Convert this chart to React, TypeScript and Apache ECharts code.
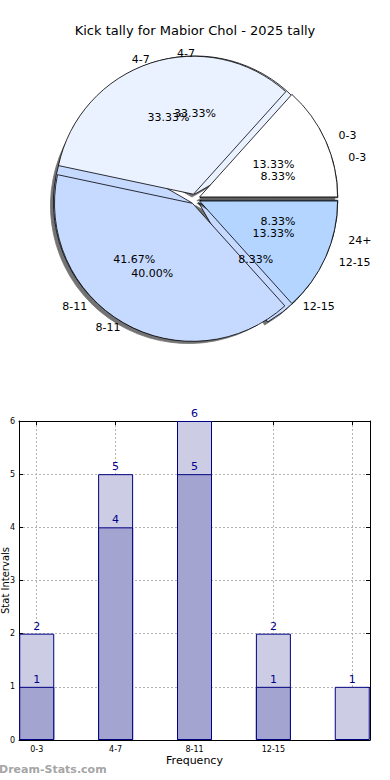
import React, { useEffect, useRef } from 'react';
import * as echarts from 'echarts';

const TITLE = 'Kick tally for Mabior Chol - 2025 tally';

// Pie A (drawn underneath): 12 in total
const pieCategoriesA = ['0-3', '4-7', '8-11', '12-15', '24+'];
const pieValuesA = [1, 4, 5, 1, 1];

// Pie B (drawn on top): 15 in total
const pieCategoriesB = ['0-3', '4-7', '8-11', '12-15'];
const pieValuesB = [2, 5, 6, 2];

// Bar chart
const barCategories = ['0-3', '4-7', '8-11', '12-15', ''];
const barLight = [2, 5, 6, 2, 1];
const barDark = [1, 4, 5, 1, 0];
const yTickLabels = ['0', '1', '2', '3', '4', '5', '6'];

const Y_AXIS_NAME = 'Stat Intervals';
const X_AXIS_NAME = 'Frequency';
const WATERMARK = 'Dream-Stats.com';

// styles
const colorsA = ['#ffffff', '#eaf1ff', '#c6d9ff', '#c6d9ff', '#b3d5ff'];
const colorsB = ['#ffffff', '#eaf1ff', '#c6d9ff', '#b3d5ff'];
const FONT = 'DejaVu Sans';

export default function App() {
  const ref = useRef<HTMLDivElement>(null);

  useEffect(() => {
    const chart = echarts.init(ref.current as HTMLDivElement, null, { renderer: 'svg' });
    const R = 138;
    const C = [195, 199];
    const OFFSET = 5;
    const START = 0.01;
    // reference pie is slightly elliptical: horizontal / vertical radii
    const RX = 145;
    const RY = 132;

    // per-slice label distance so that names sit at 1.1x the reference ellipse
    const labelLens = (vals: number[]) => {
      const total = vals.reduce((a, b) => a + b, 0);
      let acc = 0;
      return vals.map((v) => {
        const mid = ((acc + v / 2) / total) * Math.PI * 2;
        acc += v;
        const d = 1.1 * Math.sqrt((RX * Math.cos(mid)) ** 2 + (RY * Math.sin(mid)) ** 2);
        return Math.max(1, d - R - OFFSET);
      });
    };

    const pieBase = (name: string, cats: string[], vals: number[], colors: string[], shadow: boolean) => {
      const lens = labelLens(vals);
      return {
        name,
        type: 'pie',
        center: C,
        radius: [0, R],
        startAngle: START,
        clockwise: false,
        silent: true,
        selectedMode: 'multiple',
        selectedOffset: OFFSET,
        avoidLabelOverlap: false,
        labelLayout: { hideOverlap: false },
        itemStyle: {
          borderColor: '#000',
          borderWidth: 0.8,
          ...(shadow
            ? { shadowColor: 'rgba(0,0,0,0.55)', shadowOffsetX: -3, shadowOffsetY: 3, shadowBlur: 1 }
            : {}),
        },
        select: { itemStyle: { borderColor: '#000', borderWidth: 0.8 } },
        emphasis: { disabled: true },
        label: {
          show: true,
          position: 'outside',
          formatter: '{b}',
          fontSize: 11,
          color: '#000',
          fontFamily: FONT,
          distanceToLabelLine: 0,
        },
        labelLine: { show: false, length: 14, length2: 0 },
        data: cats.map((c, i) => ({
          name: c,
          value: vals[i],
          selected: true,
          itemStyle: { color: colors[i] },
          labelLine: { show: false, length: lens[i], length2: 0 },
        })),
      };
    };

    const pctSeries = (name: string, cats: string[], vals: number[]) => {
      const total = vals.reduce((a, b) => a + b, 0);
      return {
        name,
        type: 'pie',
        center: C,
        radius: [0, R * 1.2],
        startAngle: START,
        clockwise: false,
        silent: true,
        avoidLabelOverlap: false,
        labelLayout: { hideOverlap: false },
        itemStyle: { color: 'rgba(0,0,0,0)', borderWidth: 0 },
        emphasis: { disabled: true },
        label: {
          show: true,
          position: 'inside',
          formatter: (p: any) => ((p.value / total) * 100).toFixed(2) + '%',
          fontSize: 11,
          color: '#000',
          fontFamily: FONT,
        },
        labelLine: { show: false },
        data: cats.map((c, i) => ({ name: c, value: vals[i] })),
      };
    };

    const xTickValues = barCategories.map((_, i) => i);
    const xMin = -0.225;
    const xMax = barCategories.length - 1 + 0.225;

    const frameLine = { show: true, onZero: false, lineStyle: { color: '#000', width: 1 } };
    const gridLine = { show: true, lineStyle: { type: [2, 2], color: '#b4b4b4', width: 1 } };

    const option: any = {
      animation: false,
      textStyle: { fontFamily: FONT },
      title: {
        text: TITLE,
        left: 'center',
        top: 19,
        textStyle: { fontSize: 13, fontWeight: 'normal', color: '#000', fontFamily: FONT },
      },
      grid: { left: 19, right: 20, top: 421, bottom: 40, containLabel: false, outerBoundsMode: 'none' },
      xAxis: [
        {
          type: 'value',
          min: xMin,
          max: xMax,
          position: 'bottom',
          axisLine: frameLine,
          axisTick: { show: true, inside: true, length: 4, customValues: xTickValues, lineStyle: { color: '#000' } },
          axisLabel: {
            customValues: xTickValues,
            formatter: (v: number) => barCategories[Math.round(v)] ?? '',
            fontSize: 8,
            color: '#000',
            margin: 5,
          },
          splitLine: gridLine,
          name: X_AXIS_NAME,
          nameLocation: 'middle',
          nameGap: 15,
          nameMoveOverlap: false,
          nameTextStyle: { fontSize: 11, color: '#000' },
        },
        {
          type: 'value',
          min: xMin,
          max: xMax,
          position: 'top',
          axisLine: frameLine,
          axisTick: { show: true, inside: true, length: 4, customValues: xTickValues, lineStyle: { color: '#000' } },
          axisLabel: { show: false, customValues: xTickValues },
          splitLine: { show: false },
        },
      ],
      yAxis: [
        {
          type: 'value',
          min: 0,
          max: yTickLabels.length - 1,
          interval: 1,
          position: 'left',
          axisLine: frameLine,
          axisTick: { show: true, inside: true, length: 4, lineStyle: { color: '#000' } },
          axisLabel: {
            formatter: (v: number) => yTickLabels[Math.round(v)] ?? '',
            fontSize: 8,
            color: '#000',
            margin: 4,
          },
          splitLine: gridLine,
          name: Y_AXIS_NAME,
          nameLocation: 'middle',
          nameGap: 9,
          nameRotate: 90,
          nameMoveOverlap: false,
          nameTextStyle: { fontSize: 10, color: '#000' },
        },
        {
          type: 'value',
          min: 0,
          max: yTickLabels.length - 1,
          interval: 1,
          position: 'right',
          axisLine: frameLine,
          axisTick: { show: true, inside: true, length: 4, lineStyle: { color: '#000' } },
          axisLabel: { show: false },
          splitLine: { show: false },
        },
      ],
      series: [
        pieBase('A', pieCategoriesA, pieValuesA, colorsA, true),
        pieBase('B', pieCategoriesB, pieValuesB, colorsB, false),
        pctSeries('A%', pieCategoriesA, pieValuesA),
        pctSeries('B%', pieCategoriesB, pieValuesB),
        {
          type: 'bar',
          xAxisIndex: 0,
          yAxisIndex: 0,
          barWidth: 35,
          barGap: '-100%',
          silent: true,
          itemStyle: { color: '#ccccE4', borderColor: '#000080', borderWidth: 1 },
          label: { show: true, position: 'top', distance: 2, color: '#00008b', fontSize: 11 },
          data: barLight.map((v, i) => [i, v]),
        },
        {
          type: 'bar',
          xAxisIndex: 0,
          yAxisIndex: 0,
          barWidth: 35,
          barGap: '-100%',
          silent: true,
          itemStyle: { color: '#a3a5d0', borderColor: '#000080', borderWidth: 1 },
          label: { show: true, position: 'top', distance: 2, color: '#00008b', fontSize: 11 },
          data: barDark.map((v, i) => (v > 0 ? [i, v] : null)).filter((d) => d !== null),
        },
      ],
      graphic: [
        {
          type: 'text',
          left: -1,
          top: 764,
          style: {
            text: WATERMARK,
            fontSize: 11,
            fontWeight: 'bold',
            fill: 'rgba(140,140,140,0.8)',
            fontFamily: FONT,
          },
        },
      ],
    };

    chart.setOption(option);
    return () => chart.dispose();
  }, []);

  return <div ref={ref} style={{ position: 'absolute', left: 0, top: 0, width: 390, height: 780 }} />;
}
